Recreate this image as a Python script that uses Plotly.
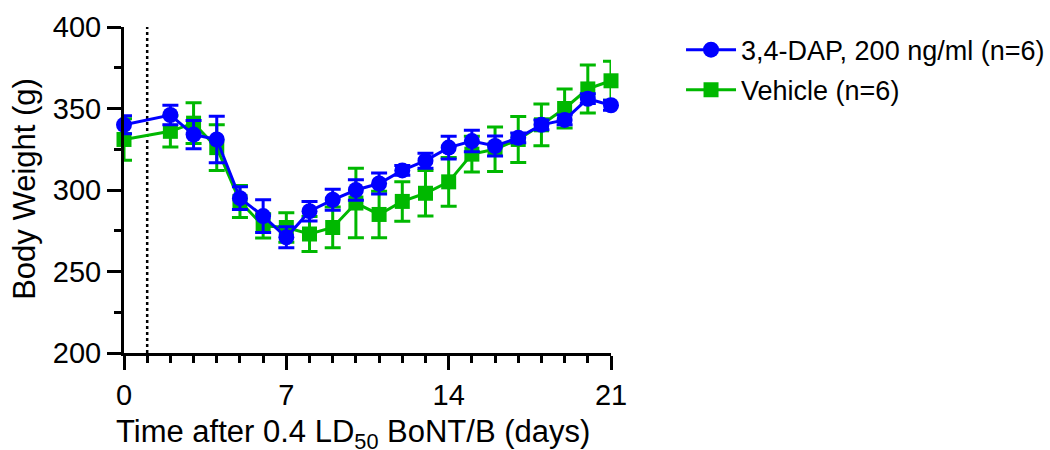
import plotly.graph_objects as go

days = [0, 2, 3, 4, 5, 6, 7, 8, 9, 10, 11, 12, 13, 14, 15, 16, 17, 18, 19, 20, 21]

dap_mean = [340, 346, 334, 331, 295, 284, 271, 287, 294, 300, 304, 312, 318, 326, 330, 327, 332, 340, 343, 356, 352]
dap_err = [5.5, 6, 8.7, 14.3, 7, 10, 6.5, 6, 6.4, 6.3, 6.4, 3, 4.6, 7, 6.6, 6.1, 3, 3, 3, 3, 3]

veh_mean = [331, 336, 341, 326, 293, 278, 277, 273, 277, 292, 285, 293, 298, 305, 322, 325, 331, 340, 350, 362, 367]
veh_err = [12.7, 9.6, 12.5, 14, 9.8, 7.5, 9, 10.8, 12.5, 21.3, 14.3, 12.1, 14, 15, 11, 13.6, 14.1, 12.8, 12, 14.7, 12]

dap_name = "3,4-DAP, 200 ng/ml (n=6)"
veh_name = "Vehicle (n=6)"
x_title = "Time after 0.4 LD<sub>50</sub> BoNT/B (days)"
y_title = "Body Weight (g)"

BLUE = "#0000FF"
GREEN = "#00B800"

fig = go.Figure()

fig.add_trace(go.Scatter(
    x=days, y=veh_mean, name=veh_name, mode="lines+markers",
    line=dict(color=GREEN, width=3),
    marker=dict(symbol="square", size=15, color=GREEN),
    error_y=dict(type="data", array=veh_err, visible=True, color=GREEN, thickness=3, width=8),
    cliponaxis=False, legendrank=2, legendgroup="veh",
))
fig.add_trace(go.Scatter(
    x=days, y=dap_mean, name=dap_name, mode="lines+markers",
    line=dict(color=BLUE, width=3),
    marker=dict(symbol="circle", size=16, color=BLUE),
    error_y=dict(type="data", array=dap_err, visible=True, color=BLUE, thickness=3, width=8),
    cliponaxis=False, legendrank=1, legendgroup="dap",
))

fig.add_shape(type="line", x0=1, x1=1, y0=200, y1=400, xref="x", yref="y",
              line=dict(color="black", width=2.5, dash="dot"), layer="below")

fig.add_annotation(text=x_title, xref="paper", yref="paper",
                   x=-0.0205, y=-0.247, xanchor="left", yanchor="middle",
                   showarrow=False, font=dict(size=31, color="black"))
fig.add_annotation(text=y_title, xref="paper", yref="paper",
                   x=-0.203, y=0.504, xanchor="center", yanchor="middle", textangle=-90,
                   showarrow=False, font=dict(size=31, color="black"))

fig.update_layout(
    width=1050, height=450,
    margin=dict(l=124, r=439, t=27, b=97, autoexpand=False),
    paper_bgcolor="white", plot_bgcolor="white",
    font=dict(family="Liberation Sans, Arial, sans-serif", size=29, color="black"),
    showlegend=True,
    legend=dict(xref="container", yref="container", x=0.6486, y=0.943,
                xanchor="left", yanchor="top",
                font=dict(size=27), tracegroupgap=2, itemwidth=50,
                bgcolor="rgba(0,0,0,0)"),
)

fig.update_xaxes(
    range=[0, 21], tickvals=[0, 7, 14, 21], ticktext=["0", "7", "14", "21"],
    showline=True, linecolor="black", linewidth=3, zeroline=False, showgrid=False,
    ticks="outside", ticklen=14, tickwidth=3, tickcolor="black",
    minor=dict(dtick=1, tick0=0, ticks="outside", ticklen=7, tickwidth=3, tickcolor="black", showgrid=False),
    tickfont=dict(size=29), ticklabelstandoff=0, automargin=False,
)
fig.update_yaxes(
    range=[200, 400], tickvals=[200, 250, 300, 350, 400],
    showline=True, linecolor="black", linewidth=3, zeroline=False, showgrid=False,
    ticks="outside", ticklen=14, tickwidth=3, tickcolor="black",
    minor=dict(dtick=25, tick0=200, ticks="outside", ticklen=7, tickwidth=3, tickcolor="black", showgrid=False),
    tickfont=dict(size=29), automargin=False,
)

fig.write_html("out.html")
